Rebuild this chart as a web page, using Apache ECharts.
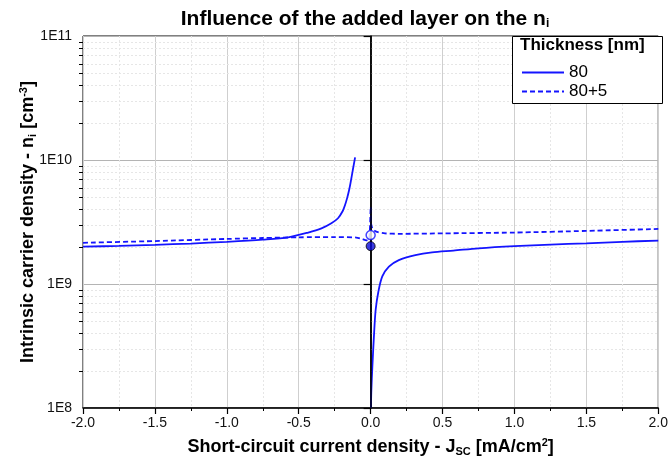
<!DOCTYPE html>
<html><head><meta charset="utf-8">
<script src="https://cdn.jsdelivr.net/npm/echarts@6/dist/echarts.min.js"></script>
<style>html,body{margin:0;padding:0;background:#fff}#c{width:671px;height:463px}</style>
</head><body><div id="c"></div>
<script>
// ---- data ----
const seriesNames = ['80', '80+5'];
// series "80" (two branches, separated by a null)
const s80X = [-2.0, -1.75, -1.5, -1.25, -1.0, -0.75, -0.573, -0.434, -0.342, -0.273, -0.227, -0.193, -0.179, -0.163, -0.15, -0.14, -0.124, -0.108,
              0.0,
              0.002, 0.005, 0.012, 0.024, 0.035, 0.054, 0.081, 0.127, 0.196, 0.311, 0.427, 0.576, 0.75, 1.0, 1.25, 1.5, 1.75, 2.0];
const s80Y = [2.0e9, 2.03e9, 2.07e9, 2.12e9, 2.19e9, 2.28e9, 2.38e9, 2.6e9, 2.81e9, 3.09e9, 3.39e9, 3.9e9, 4.3e9, 4.95e9, 5.7e9, 6.5e9, 8.3e9, 1.05e10,
              null,
              1.0e8, 1.4e8, 2.15e8, 4.0e8, 6.2e8, 8.7e8, 1.15e9, 1.38e9, 1.56e9, 1.71e9, 1.8e9, 1.86e9, 1.94e9, 2.02e9, 2.08e9, 2.13e9, 2.19e9, 2.24e9];
// series "80+5"
const s85X = [-2.0, -1.5, -1.0, -0.75, -0.5, -0.25, -0.1, -0.055, -0.03, -0.01,
              0.001, 0.003, 0.008, 0.014, 0.03, 0.05, 0.1, 0.2, 0.5, 1.0, 1.5, 2.0];
const s85Y = [2.15e9, 2.22e9, 2.31e9, 2.35e9, 2.38e9, 2.39e9, 2.37e9, 2.3e9, 2.25e9, 2.3e9,
              4.2e9, 3.1e9, 2.9e9, 2.8e9, 2.68e9, 2.62e9, 2.56e9, 2.54e9, 2.56e9, 2.6e9, 2.68e9, 2.78e9];
// points at J = 0
const filledPt = [0, 2.02e9];
const openPt = [0, 2.48e9];
// axis ticks
const xMin = -2, xMax = 2, xStep = 0.5;
const yMin = 1e8, yMax = 1e11;
const yTickLabels = {'100000000': '1E8', '1000000000': '1E9', '10000000000': '1E10', '100000000000': '1E11'};
const yMinorVals = [];
[1e8, 1e9, 1e10].forEach(d => { for (let k = 2; k <= 9; k++) yMinorVals.push(d * k); });

const pairs = (xs, ys) => xs.map((x, i) => [x, ys[i]]);
const FONT = "'Liberation Sans', Arial, sans-serif";
const BLUE = '#1414ff';
const nameRich = {
  n: {fontSize: 18, fontWeight: 'bold', color: '#000', fontFamily: FONT},
  sub: {fontSize: 11, fontWeight: 'bold', color: '#000', fontFamily: FONT, padding: [9, 0, 0, 0]},
  sup: {fontSize: 11, fontWeight: 'bold', color: '#000', fontFamily: FONT, padding: [0, 0, 9, 0]}
};

const chart = echarts.init(document.getElementById('c'), null, {renderer: 'canvas'});
chart.setOption({
  animation: false,
  backgroundColor: '#fff',
  textStyle: {fontFamily: FONT},
  title: {
    text: '{t|Influence of the added layer on the n}{s|i}',
    left: 360, top: 3, textAlign: 'center',
    textStyle: {
      rich: {
        t: {fontSize: 21, fontWeight: 'bold', color: '#000', fontFamily: FONT},
        s: {fontSize: 12, fontWeight: 'bold', color: '#000', fontFamily: FONT, padding: [10, 0, 0, 0]}
      }
    }
  },
  grid: {left: 83, right: 9, top: 36, bottom: 55, show: true, borderColor: '#000', borderWidth: 1, backgroundColor: 'transparent'},
  legend: {
    data: seriesNames,
    orient: 'vertical', left: 521, top: 64, padding: 0, itemWidth: 42, itemHeight: 12, itemGap: 2,
    textStyle: {fontSize: 17, color: '#000', fontFamily: FONT},
    itemStyle: {opacity: 0, borderWidth: 0}
  },
  graphic: [
    {type: 'rect', left: 512, top: 36, shape: {width: 150, height: 67}, style: {fill: '#fff', stroke: '#000', lineWidth: 1}, z: 4},
    {type: 'text', left: 520, top: 37, style: {text: 'Thickness [nm]', font: 'bold 17px ' + FONT, fill: '#000'}, z: 5}
  ],
  xAxis: {
    type: 'value', min: xMin, max: xMax, interval: xStep,
    name: '{n|Short-circuit current density - J}{sub|SC}{n| [mA/cm}{sup|2}{n|]}',
    nameLocation: 'middle', nameGap: 29,
    nameTextStyle: {rich: nameRich},
    axisLine: {show: true, onZero: false, lineStyle: {color: '#000', width: 1.5}},
    axisTick: {show: true, length: 6, lineStyle: {color: '#000', width: 1.2}},
    minorTick: {show: true, splitNumber: 2, length: 3, lineStyle: {color: '#000', width: 1}},
    axisLabel: {fontSize: 14, color: '#111', margin: 8, formatter: v => v.toFixed(1)},
    splitLine: {show: true, lineStyle: {color: '#cfcfcf', width: 1}},
    minorSplitLine: {show: true, lineStyle: {color: '#e6e6e6', width: 1, type: [2, 2]}}
  },
  yAxis: {
    type: 'log', logBase: 10, min: yMin, max: yMax,
    name: '{n|Intrinsic carrier density - n}{sub|i}{n| [cm}{sup|-3}{n|]}',
    nameLocation: 'middle', nameGap: 45, nameRotate: 90, nameMoveOverlap: false,
    nameTextStyle: {rich: nameRich},
    axisLine: {show: true, lineStyle: {color: '#000', width: 1.5}},
    axisTick: {show: true, length: 7, lineStyle: {color: '#000', width: 1.2}},
    axisLabel: {fontSize: 14, color: '#111', margin: 11, formatter: v => yTickLabels[String(Math.round(v))] || ''},
    splitLine: {show: true, lineStyle: {color: '#b4b4b4', width: 1}}
  },
  series: [
    {
      type: 'custom', name: 'minorGrid', silent: true, z: 1,
      data: yMinorVals.map(v => [xMin, v]),
      renderItem: function (params, api) {
        const cs = params.coordSys;
        const y = Math.round(api.coord([api.value(0), api.value(1)])[1]) + 0.5;
        return {type: 'group', children: [
          {type: 'line', shape: {x1: cs.x, y1: y, x2: cs.x + cs.width, y2: y}, style: {stroke: '#e6e6e6', lineWidth: 1, lineDash: [2, 2]}},
          {type: 'line', shape: {x1: cs.x - 4, y1: y, x2: cs.x, y2: y}, style: {stroke: '#000', lineWidth: 1}}
        ]};
      }
    },
    {
      type: 'line', name: seriesNames[0], data: pairs(s80X, s80Y), showSymbol: false, symbol: 'none',
      connectNulls: false, smooth: 0.3, z: 3,
      lineStyle: {color: BLUE, width: 1.8}, itemStyle: {color: BLUE},
      markLine: {silent: true, symbol: 'none', label: {show: false}, animation: false,
        lineStyle: {color: '#000', width: 1.5, type: 'solid'}, data: [{xAxis: 0}]}
    },
    {
      type: 'line', name: seriesNames[1], data: pairs(s85X, s85Y), showSymbol: false, symbol: 'none',
      smooth: 0.25, z: 3,
      lineStyle: {color: BLUE, width: 1.8, type: [5, 3]}, itemStyle: {color: BLUE}
    },
    {
      type: 'scatter', name: 'pts', z: 6, symbolSize: 9,
      data: [
        {value: filledPt, itemStyle: {color: '#0a0ad8', borderColor: '#000', borderWidth: 1}},
        {value: openPt, itemStyle: {color: '#fff', borderColor: BLUE, borderWidth: 1.5}}
      ]
    }
  ]
});
</script></body></html>
